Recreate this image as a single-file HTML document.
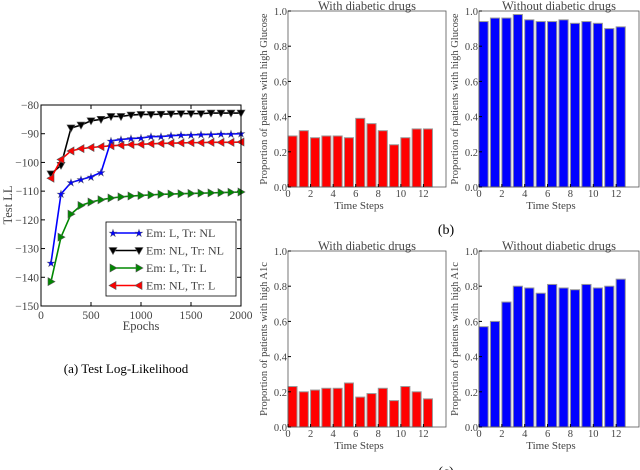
<!DOCTYPE html>
<html><head><meta charset="utf-8"><style>
html,body{margin:0;padding:0;background:#fff;width:640px;height:470px;overflow:hidden}
svg{font-family:"Liberation Serif",serif;display:block}
</style></head><body>
<svg id="s" width="640" height="470" xmlns="http://www.w3.org/2000/svg"></svg>
<script>
const epochs=[100,200,300,400,500,600,700,800,900,1000,1100,1200,1300,1400,1500,1600,1700,1800,1900,2000];
const llBlack=[-104,-101,-88,-87,-85.5,-85,-84,-84,-83.5,-83.3,-83.3,-83.2,-83.1,-83,-83,-83,-82.8,-82.8,-82.8,-82.8];
const llBlue=[-135,-111,-107,-106,-105,-103.5,-92.5,-92,-91.7,-91.5,-91,-91,-90.7,-90.5,-90.4,-90.3,-90.2,-90.1,-90.1,-90];
const llRed=[-105.5,-99,-96,-95.2,-94.8,-94.5,-94.2,-94,-93.8,-93.7,-93.5,-93.4,-93.3,-93.2,-93.1,-93.1,-93,-93,-93,-92.9];
const llGreen=[-141.5,-126,-118,-115,-113.8,-113,-112.4,-112,-111.7,-111.5,-111.3,-111.1,-111,-110.9,-110.8,-110.7,-110.6,-110.5,-110.4,-110.3];
const llXTicks=[0,500,1000,1500,2000];
const llYTicks=[-150,-140,-130,-120,-110,-100,-90,-80];
const timeSteps=[0,1,2,3,4,5,6,7,8,9,10,11,12];
const glucoseWith=[.29,.32,.28,.29,.29,.28,.39,.36,.32,.24,.28,.33,.33];
const glucoseWithout=[.94,.96,.96,.98,.95,.94,.94,.95,.93,.94,.93,.90,.91];
const a1cWith=[.23,.20,.21,.22,.22,.25,.17,.19,.22,.15,.23,.20,.16];
const a1cWithout=[.57,.60,.71,.80,.79,.76,.81,.79,.78,.81,.79,.80,.84];
const barXTicks=[0,2,4,6,8,10,12];
const barYTicks=[0,0.2,0.4,0.6,0.8,1.0];

const NS="http://www.w3.org/2000/svg";
const svg=document.getElementById('s');
function el(tag,attrs,parent){const e=document.createElementNS(NS,tag);for(const k in attrs)e.setAttribute(k,attrs[k]);(parent||svg).appendChild(e);return e;}
function txt(s,attrs,parent){const e=el('text',attrs,parent);e.textContent=s;return e;}

// ---- Line chart ----
const L={x0:41,x1:241,y0:306,y1:105};
const lx=v=>L.x0+(v-0)/2000*(L.x1-L.x0);
const ly=v=>L.y0-(v+150)/70*(L.y0-L.y1);
const gL=el('g',{});


llXTicks.forEach(t=>{el('line',{x1:lx(t),x2:lx(t),y1:L.y0,y2:L.y0-4,stroke:'#000'},gL);el('line',{x1:lx(t),x2:lx(t),y1:L.y1,y2:L.y1+4,stroke:'#000'},gL);
 const e=txt(t,{x:lx(t),y:L.y0+13,'font-size':11.5,'text-anchor':'middle',fill:'#444'},gL);});
llYTicks.forEach(t=>{el('line',{x1:L.x0,x2:L.x0+4,y1:ly(t),y2:ly(t),stroke:'#000'},gL);el('line',{x1:L.x1,x2:L.x1-4,y1:ly(t),y2:ly(t),stroke:'#000'},gL);
 const e=txt('\u2212'+Math.abs(t),{x:L.x0-2,y:ly(t)+4,'font-size':11.5,'text-anchor':'end',fill:'#444'},gL);});
function marker(type,x,y,c,g){
 let p;
 if(type==='down')p=`${x-4},${y-3} ${x+4},${y-3} ${x},${y+4}`;
 else if(type==='right')p=`${x-3},${y-4} ${x-3},${y+4} ${x+4},${y}`;
 else if(type==='left')p=`${x+3},${y-4} ${x+3},${y+4} ${x-4},${y}`;
 if(type==='star'){txt('\u2605',{x:x,y:y+3.5,'font-size':10,'text-anchor':'middle',fill:c,stroke:'#555','stroke-width':0.4},g);return;}
 el('polygon',{points:p,fill:c,stroke:'#555','stroke-width':0.6},g);
}
const series=[[llBlack,'#000','down','series-em-nl-tr-nl'],[llRed,'#f00','left','series-em-nl-tr-l'],[llBlue,'#00f','star','series-em-l-tr-nl'],[llGreen,'#080','right','series-em-l-tr-l']];
series.forEach(([d,c,m,n])=>{const g=el('g',{},gL);
 el('polyline',{points:d.map((v,i)=>lx(epochs[i])+','+ly(v)).join(' '),fill:'none',stroke:c,'stroke-width':1.6},g);
 d.forEach((v,i)=>marker(m,lx(epochs[i]),ly(v),c,g));});
el('rect',{x:L.x0,y:L.y1,width:L.x1-L.x0,height:L.y0-L.y1,fill:'none',stroke:'#000','stroke-width':1},gL);
// legend
const lg=el('g',{},gL);
el('rect',{x:106,y:222,width:130,height:74,fill:'#fff',stroke:'#000','stroke-width':0.8},lg);
[['Em: L, Tr: NL','#00f','star'],['Em: NL, Tr: NL','#000','down'],['Em: L, Tr: L','#080','right'],['Em: NL, Tr: L','#f00','left']].forEach(([s,c,m],i)=>{
 const y=233+i*17.5;const g=el('g',{},lg);
 el('line',{x1:112,x2:140,y1:y,y2:y,stroke:c,'stroke-width':1.6},g);marker(m,113,y,c,g);marker(m,139,y,c,g);
 txt(s,{x:146,y:y+4,'font-size':12,fill:'#444'},g);});
let e=txt('Test LL',{x:0,y:0,'font-size':12.5,'text-anchor':'middle',fill:'#444',transform:'translate(12,205) rotate(-90)'});
e=txt('Epochs',{x:141,y:330,'font-size':12.5,'text-anchor':'middle',fill:'#444'});
e=txt('(a) Test Log-Likelihood',{x:126,y:373,'font-size':13,'text-anchor':'middle',fill:'#000'});

// ---- Bar charts ----
function barChart(x0,x1,y0,y1,vals,color,title,ylabel,name){
 const g=el('g',{});
 const bx=v=>x0+v/14*(x1-x0);const by=v=>y0-v*(y0-y1);
 vals.forEach((v,i)=>{const r=el('rect',{x:bx(timeSteps[i]),y:by(v),width:bx(0.8)-bx(0),height:y0-by(v),fill:color,stroke:'#999','stroke-width':1},g);
  });
 el('rect',{x:x0,y:y1,width:x1-x0,height:y0-y1,fill:'none',stroke:'#555','stroke-width':0.8},g);
 barXTicks.forEach(t=>{el('line',{x1:bx(t),x2:bx(t),y1:y0,y2:y0-3,stroke:'#000'},g);
  const e=txt(t,{x:bx(t),y:y0+10,'font-size':10.5,'text-anchor':'middle',fill:'#444'},g);});
 barYTicks.forEach(t=>{el('line',{x1:x0,x2:x0+3,y1:by(t),y2:by(t),stroke:'#000'},g);
  const e=txt(t.toFixed(1),{x:x0-1,y:by(t)+4,'font-size':10.5,'text-anchor':'end',fill:'#444'},g);});
 let e=txt(title,{x:(x0+x1)/2,y:y1-1,'font-size':12.5,'text-anchor':'middle',fill:'#444'},g);
 e=txt('Time Steps',{x:(x0+x1)/2-8,y:y0+22,'font-size':11,'text-anchor':'middle',fill:'#444'},g);
 e=txt(ylabel,{x:0,y:0,'font-size':10.5,'text-anchor':'middle',fill:'#444',transform:`translate(${x0-21},${(y0+y1)/2}) rotate(-90)`},g);
}
barChart(288,446,187,11,glucoseWith,'#f00','With diabetic drugs','Proportion of patients with high Glucose','glucose-with-drugs-chart');
barChart(479,639,187,11,glucoseWithout,'#00f','Without diabetic drugs','Proportion of patients with high Glucose','glucose-without-drugs-chart');
barChart(288,446,427,251,a1cWith,'#f00','With diabetic drugs','Proportion of patients with high A1c','a1c-with-drugs-chart');
barChart(479,639,427,251,a1cWithout,'#00f','Without diabetic drugs','Proportion of patients with high A1c','a1c-without-drugs-chart');
e=txt('(b)',{x:446,y:234,'font-size':14,'text-anchor':'middle',fill:'#000'});
e=txt('(c)',{x:446,y:476,'font-size':14,'text-anchor':'middle',fill:'#000'});
</script>
</body></html>
